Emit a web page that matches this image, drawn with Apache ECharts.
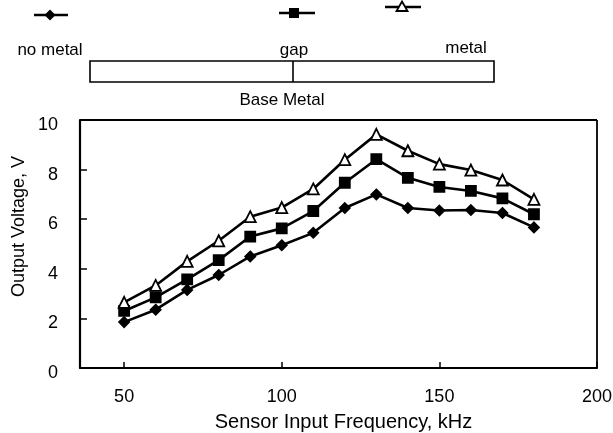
<!DOCTYPE html>
<html>
<head>
<meta charset="utf-8">
<script src="https://cdn.jsdelivr.net/npm/echarts@6/dist/echarts.min.js"></script>
<style>
html,body{margin:0;padding:0;background:#fff;}
#c{width:613px;height:433px;}
</style>
</head>
<body>
<div id="c"></div>
<script>
var frequency = [50, 60, 70, 80, 90, 100, 110, 120, 130, 140, 150, 160, 170, 180];
var noMetal = [1.85, 2.35, 3.15, 3.75, 4.5, 4.95, 5.45, 6.45, 7.0, 6.45, 6.35, 6.37, 6.25, 5.67];
var gap = [2.3, 2.85, 3.57, 4.35, 5.3, 5.63, 6.33, 7.47, 8.42, 7.67, 7.3, 7.14, 6.84, 6.2];
var metal = [2.65, 3.33, 4.3, 5.13, 6.1, 6.47, 7.22, 8.4, 9.42, 8.76, 8.22, 7.98, 7.58, 6.8];
var xTicks = [50, 100, 150, 200];
var yTicks = [0, 2, 4, 6, 8, 10];
var seriesNames = ['no metal', 'gap', 'metal'];

function pairs(v) { return frequency.map(function (f, i) { return [f, v[i]]; }); }

var font = 'Liberation Sans, Arial, sans-serif';
var chart = echarts.init(document.getElementById('c'), null, {renderer: 'canvas'});

function lineSeries(name, data, symbol, size, fill) {
  return {
    name: name, type: 'line', data: pairs(data), symbol: symbol, symbolSize: size,
    showAllSymbol: true,
    lineStyle: {color: '#000', width: 2.6},
    itemStyle: {color: fill, borderColor: '#000', borderWidth: 1.8},
    animation: false
  };
}

chart.setOption({
  animation: false,
  backgroundColor: '#fff',
  grid: {left: 80, top: 120, right: 16, bottom: 65, containLabel: false, outerBoundsMode: 'none'},
  xAxis: {
    type: 'value', min: 36, max: 200,
    axisLine: {lineStyle: {color: '#000', width: 2.2}},
    axisTick: {show: true, inside: true, length: 6, customValues: xTicks, lineStyle: {color: '#000', width: 1.5}},
    axisLabel: {customValues: xTicks, color: '#000', fontSize: 18, fontFamily: font, margin: 20},
    splitLine: {show: false},
    name: 'Sensor Input Frequency, kHz', nameLocation: 'middle', nameGap: 44,
    nameTextStyle: {color: '#000', fontSize: 20, fontFamily: font, padding: [0, 0, 0, 10]}
  },
  yAxis: {
    type: 'value', min: 0, max: 10, interval: 2,
    axisLine: {show: true, lineStyle: {color: '#000', width: 2.2}},
    axisTick: {show: true, inside: true, length: 7, lineStyle: {color: '#000', width: 1.5}},
    axisLabel: {color: '#000', fontSize: 18, fontFamily: font, margin: 22, verticalAlign: 'top', lineHeight: 10},
    splitLine: {show: false}
  },
  series: [
    lineSeries(seriesNames[0], noMetal, 'diamond', 10, '#000'),
    lineSeries(seriesNames[1], gap, 'rect', 10, '#000'),
    lineSeries(seriesNames[2], metal, 'triangle', 11, '#fff'),
    {
      type: 'line', data: [[200, 0], [200, 10]], symbol: 'none', silent: true,
      lineStyle: {color: '#000', width: 1.8}, animation: false
    },
    {
      type: 'line', data: [[36, 10], [200, 10]], symbol: 'none', silent: true,
      lineStyle: {color: '#000', width: 1.8}, animation: false
    }
  ],
  graphic: [
    {type: 'text', x: 10, y: 297, rotation: Math.PI / 2, style: {text: 'Output Voltage, V', fill: '#000', font: '18px ' + font, textAlign: 'left', textVerticalAlign: 'top'}},
    // legend markers
    {type: 'line', shape: {x1: 34, y1: 15, x2: 68, y2: 15}, style: {stroke: '#000', lineWidth: 2.4}},
    {type: 'polygon', shape: {points: [[50, 9.5], [55.5, 15], [50, 20.5], [44.5, 15]]}, style: {fill: '#000'}},
    {type: 'line', shape: {x1: 279, y1: 13, x2: 315, y2: 13}, style: {stroke: '#000', lineWidth: 2.4}},
    {type: 'rect', shape: {x: 289, y: 8, width: 10, height: 10}, style: {fill: '#000'}},
    {type: 'line', shape: {x1: 385, y1: 7, x2: 421, y2: 7}, style: {stroke: '#000', lineWidth: 2.4}},
    {type: 'polygon', shape: {points: [[402, 1.5], [407.5, 11], [396.5, 11]]}, style: {fill: '#fff', stroke: '#000', lineWidth: 1.8}},
    {type: 'text', style: {text: seriesNames[0], x: 50, y: 50, fill: '#000', font: '17px ' + font, textAlign: 'center', textVerticalAlign: 'middle'}},
    {type: 'text', style: {text: seriesNames[1], x: 294, y: 50, fill: '#000', font: '17px ' + font, textAlign: 'center', textVerticalAlign: 'middle'}},
    {type: 'text', style: {text: seriesNames[2], x: 466, y: 48, fill: '#000', font: '17px ' + font, textAlign: 'center', textVerticalAlign: 'middle'}},
    // base metal diagram
    {type: 'rect', shape: {x: 90, y: 61, width: 404, height: 21}, style: {fill: 'none', stroke: '#000', lineWidth: 1.6}},
    {type: 'line', shape: {x1: 293, y1: 61, x2: 293, y2: 82}, style: {stroke: '#000', lineWidth: 1.6}},
    {type: 'text', style: {text: 'Base Metal', x: 282, y: 100, fill: '#000', font: '17px ' + font, textAlign: 'center', textVerticalAlign: 'middle'}}
  ]
});
</script>
</body>
</html>
